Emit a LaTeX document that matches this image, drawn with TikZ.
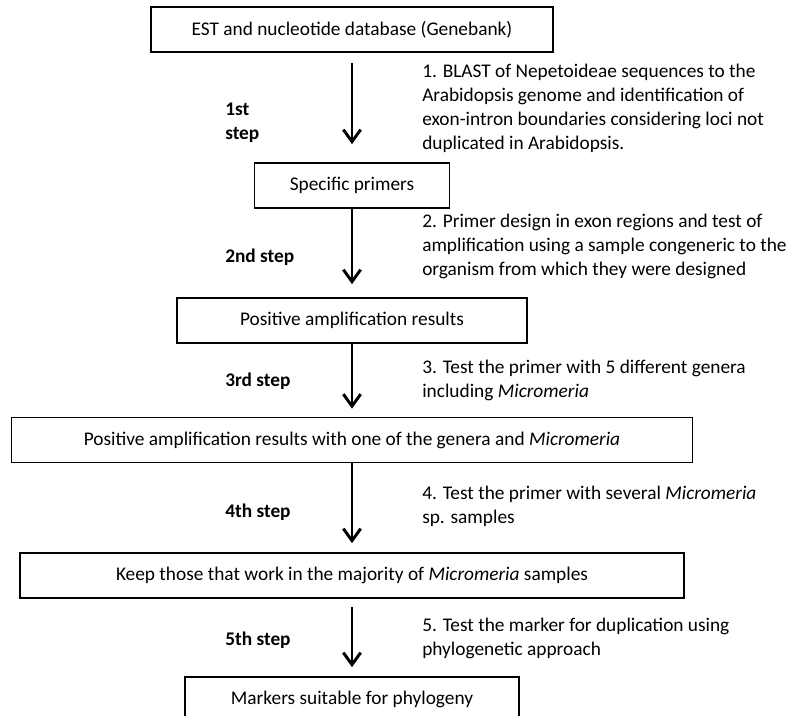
\documentclass[tikz,border=0pt]{standalone}
\usepackage{fontspec}
\setmainfont{Carlito}
\usepackage{tikz}
\usetikzlibrary{arrows.meta, positioning}

\begin{document}
\begin{tikzpicture}[
    x=0.75pt, y=-0.75pt,
    box/.style={
        rectangle,
        draw,
        line width=1.3pt,
        minimum height=33.75pt,
        inner sep=0pt,
        align=center,
        font=\fontsize{14.5}{18}\selectfont
    },
    arrow/.style={
        -{Straight Barb[length=9pt, width=13pt]},
        line width=2.2pt
    },
    steplabel/.style={
        anchor=west,
        align=left,
        inner sep=0pt,
        font=\fontsize{14.5}{18}\selectfont\bfseries
    },
    note/.style={
        anchor=west,
        align=left,
        inner sep=0pt,
        font=\fontsize{14.5}{18}\selectfont
    }
]
\useasboundingbox (0,0) rectangle (795,715);

% Boxes (vertical layout)
\node[box, minimum width=301.5pt] (db) at (352,29.5) {EST and nucleotide database (Genebank)};
\node[box, minimum width=146.25pt] (primers) at (352,185.5) {Specific primers};
\node[box, minimum width=262.5pt] (amp) at (352,320.5) {Positive amplification results};
\node[box, minimum width=510.75pt] (genera) at (352,440) {Positive amplification results with one of the genera and \textit{Micromeria}};
\node[box, minimum width=498pt] (keep) at (352,575.5) {Keep those that work in the majority of \textit{Micromeria} samples};
\node[box, minimum width=250.5pt] (markers) at (352,699.5) {Markers suitable for phylogeny};

% Arrows
\draw[arrow, shorten <=7.5pt, shorten >=13.5pt] (db) -- (primers);
\draw[arrow, shorten >=9.75pt] (primers) -- (amp);
\draw[arrow, shorten >=6pt] (amp) -- (genera);
\draw[arrow, shorten >=6.75pt] (genera) -- (keep);
\draw[arrow, shorten <=6pt, shorten >=6.75pt] (keep) -- (markers);

% Step labels
\node[steplabel] (s1) at (225,122.5) {1st\\step};
\node[steplabel] (s2) at (225,257) {2nd step};
\node[steplabel] (s3) at (225,381) {3rd step};
\node[steplabel] (s4) at (225,512) {4th step};
\node[steplabel] (s5) at (225,640) {5th step};

% Descriptions
\node[note] (n1) at (422,108.5) {1. BLAST of Nepetoideae sequences to the\\Arabidopsis genome and identification of\\exon-intron boundaries considering loci not\\duplicated in Arabidopsis.};
\node[note] (n2) at (422,246) {2. Primer design in exon regions and test of\\amplification using a sample congeneric to the\\organism from which they were designed};
\node[note] (n3) at (422,380) {3. Test the primer with 5 different genera\\including \textit{Micromeria}};
\node[note] (n4) at (422,506.5) {4. Test the primer with several \textit{Micromeria}\\sp. samples};
\node[note] (n5) at (422,638.5) {5. Test the marker for duplication using\\phylogenetic approach};
\end{tikzpicture}
\end{document}
